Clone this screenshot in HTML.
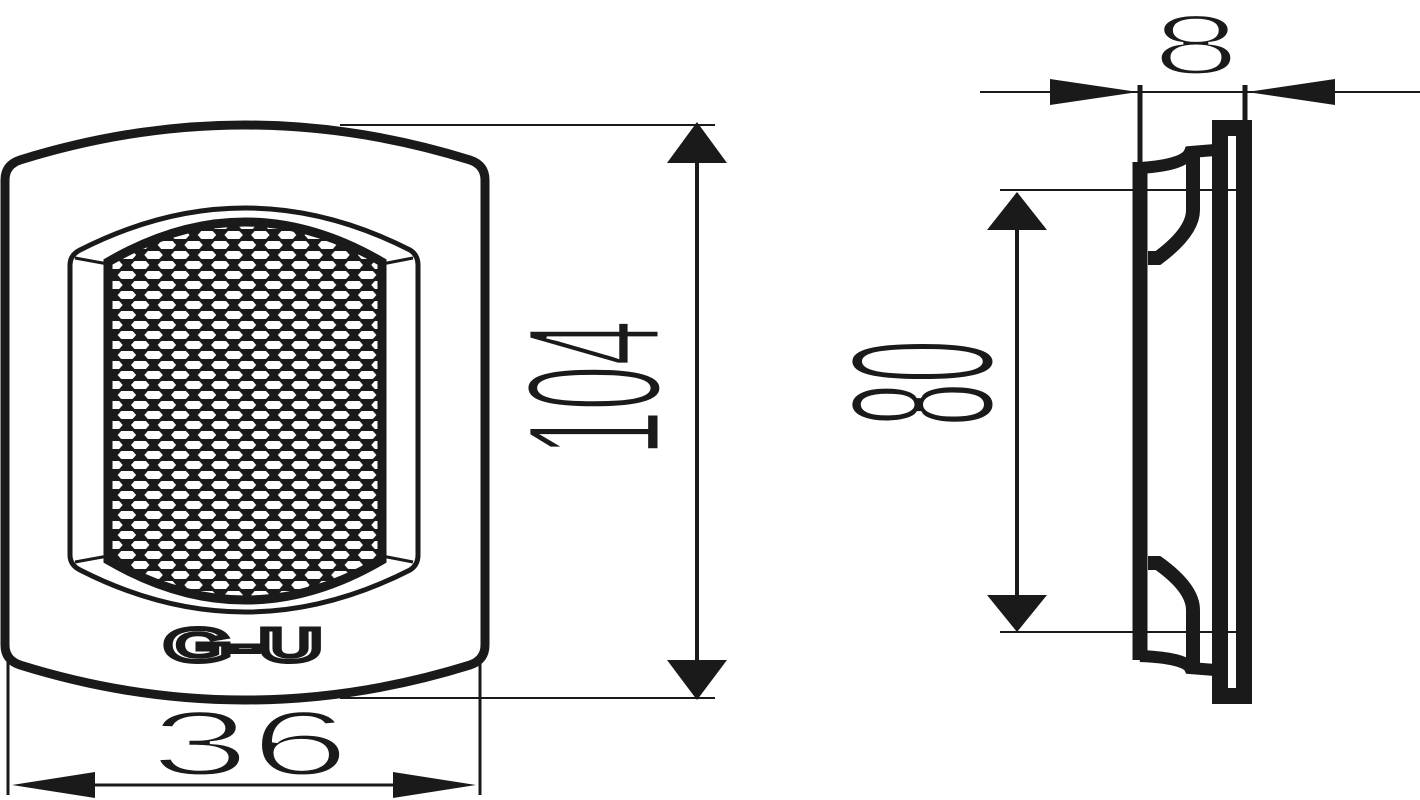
<!DOCTYPE html>
<html><head><meta charset="utf-8"><style>html,body{margin:0;padding:0;background:#fff}svg{display:block}</style></head>
<body>
<svg width="1420" height="800" viewBox="0 0 1420 800" xmlns="http://www.w3.org/2000/svg">
<defs>
<pattern id="mesh" x="0" y="0" width="26.7" height="20" patternUnits="userSpaceOnUse">
<rect width="26.7" height="20" fill="#1a1a1a"/>
<polygon points="-2.5,5 1,1 12.4,1 15.9,5 12.4,9 1,9" fill="#fff"/>
<polygon points="24.2,5 27.7,1 39,1 42.5,5 39,9 27.7,9" fill="#fff"/>
<polygon points="10.85,15 14.35,11 25.7,11 29.2,15 25.7,19 14.35,19" fill="#fff"/>
<polygon points="-2.5,15 -1,11 2.5,15 -1,19" fill="#fff"/>
<polygon points="-15.85,15 -12.35,11 -1,11 2.5,15 -1,19 -12.35,19" fill="#fff"/>
</pattern>
</defs>
<g fill="none" stroke="#1a1a1a" stroke-linejoin="round">
<path d="M5,180 Q5,165 20,160 Q245,90 470,160 Q485,165 485,180 L485,645 Q485,660 470,665 Q245,735 20,665 Q5,660 5,645 Z" stroke-width="9"/>
<path d="M70,265 Q70,255 80,250 Q245,166 410,250 Q418,255 418,265 L418,555 Q418,565 410,570 Q245,654 80,570 Q70,565 70,555 Z" stroke-width="5"/>
<path d="M75,258 L108,264 M413,258 L382,264 M75,562 L108,556 M413,562 L382,556" stroke-width="3"/>
</g>
<path d="M108,262 Q245,182 382,262 L382,560 Q245,640 108,560 Z" fill="url(#mesh)" stroke="#1a1a1a" stroke-width="9"/>
<text x="243" y="661" text-anchor="middle" font-family="Liberation Sans, sans-serif" font-weight="bold" font-size="46" fill="#fff" stroke="#1a1a1a" stroke-width="5" textLength="157" lengthAdjust="spacingAndGlyphs">G-U</text>

<g stroke="#1a1a1a" fill="none">
<path d="M340,125 L715,125 M340,698 L715,698" stroke-width="2"/>
<path d="M697,150 L697,672" stroke-width="4"/>
<path d="M8,660 L8,795 M480,660 L480,795" stroke-width="3"/>
<path d="M90,785 L395,785" stroke-width="3"/>
<path d="M1000,190 L1237,190 M1000,632 L1237,632" stroke-width="2"/>
<path d="M1017,225 L1017,600" stroke-width="4"/>
<path d="M980,92 L1420,92" stroke-width="2"/>
<path d="M1140,85 L1140,165 M1245,85 L1245,125" stroke-width="5"/>
<path d="M1140,162 L1140,660" stroke-width="15"/>
<path d="M1220,128 L1220,696 L1244,696 L1244,128 Z" stroke-width="16"/>
<path d="M1140,168 Q1185,165 1190,152 L1215,150" stroke-width="12"/>
<path d="M1148,258 L1158,258 Q1193,232 1193,210 L1193,150" stroke-width="14"/>
<path d="M1148,563 L1158,563 Q1193,588 1193,610 L1193,670" stroke-width="14"/>
<path d="M1140,656 Q1185,658 1190,668 L1215,670" stroke-width="12"/>
</g>
<g fill="#1a1a1a">
<polygon points="697,122 667,163 727,163"/>
<polygon points="697,700 667,660 727,660"/>
<polygon points="12,785 95,772 95,798"/>
<polygon points="476,785 393,772 393,798"/>
<polygon points="1017,192 987,230 1047,230"/>
<polygon points="1017,632 987,595 1047,595"/>
<polygon points="1138,92 1050,79 1050,105"/>
<polygon points="1247,92 1335,79 1335,105"/>
</g>
<g font-family="Liberation Sans, sans-serif" fill="#1a1a1a" stroke="#fff" stroke-width="3">
<text x="250" y="775" text-anchor="middle" font-size="92" textLength="200" lengthAdjust="spacingAndGlyphs">36</text>
<text x="1196" y="74" text-anchor="middle" font-size="85" textLength="88" lengthAdjust="spacingAndGlyphs">8</text>
<text transform="translate(660,388) rotate(-90)" text-anchor="middle" font-size="192" textLength="135" lengthAdjust="spacingAndGlyphs" stroke-width="5">104</text>
<text transform="translate(993,383) rotate(-90)" text-anchor="middle" font-size="205" textLength="86" lengthAdjust="spacingAndGlyphs" stroke-width="5">80</text>
</g>
</svg>
</body></html>
